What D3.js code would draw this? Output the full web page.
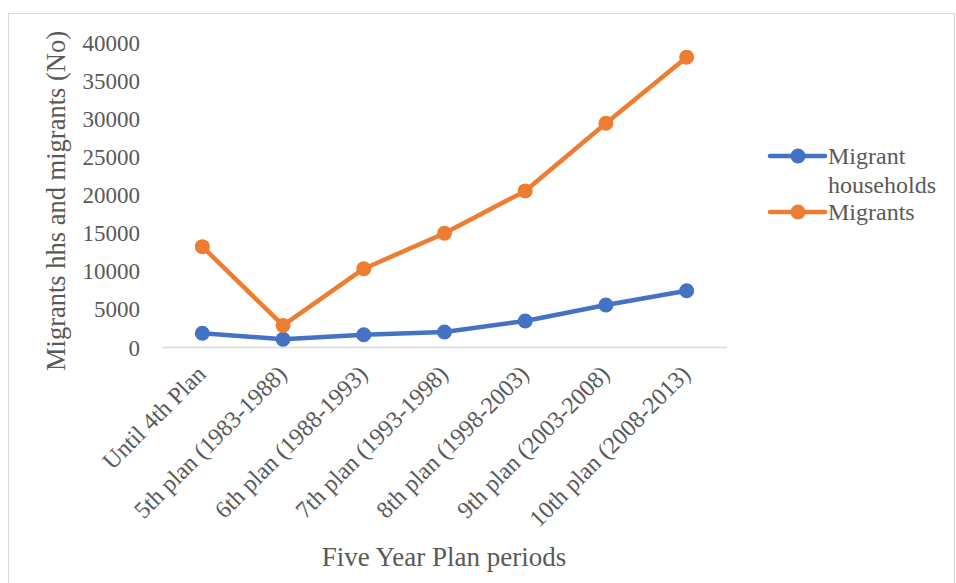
<!DOCTYPE html>
<html lang="en">
<head>
<meta charset="UTF-8">
<title>Migrant households and migrants by Five Year Plan period</title>
<script src="https://d3js.org/d3.v7.min.js"></script>
<style>
    body {
        margin: 0;
        padding: 0;
        background: #fff;
    }
    svg text {
        font-family: "Liberation Serif", "Times New Roman", serif;
        fill: #595959;
    }
</style>
</head>
<body>
<svg id="chart" width="956" height="583"></svg>
<script>
    // data
    const periods = [
        'Until 4th Plan',
        '5th plan (1983-1988)',
        '6th plan (1988-1993)',
        '7th plan (1993-1998)',
        '8th plan (1998-2003)',
        '9th plan (2003-2008)',
        '10th plan (2008-2013)'
    ];
    const households = [1870, 1080, 1680, 2040, 3480, 5590, 7460];
    const migrants = [13250, 2900, 10350, 15000, 20570, 29460, 38140];
    const yTicks = [0, 5000, 10000, 15000, 20000, 25000, 30000, 35000, 40000];

    const series = [
        {name: 'Migrant households', values: households, color: '#4472C4'},
        {name: 'Migrants', values: migrants, color: '#ED7D31'}
    ];

    const svg = d3.select('#chart');

    // chart area border
    svg.append('rect')
        .attr('x', 8.5).attr('y', 13.5)
        .attr('width', 946).attr('height', 600)
        .attr('fill', 'none')
        .attr('stroke', '#d9d9d9');

    const x = d3.scaleBand()
        .domain(periods)
        .range([162, 727]);

    const y = d3.scaleLinear()
        .domain([0, 40000])
        .range([347.5, 43]);

    // y axis labels (no axis line)
    svg.append('g')
        .selectAll('text')
        .data(yTicks)
        .enter()
        .append('text')
        .attr('x', 140)
        .attr('y', d => y(d))
        .attr('dy', '0.35em')
        .attr('text-anchor', 'end')
        .style('font-size', '23px')
        .text(d => d);

    // x axis line
    svg.append('line')
        .attr('x1', 162).attr('x2', 727)
        .attr('y1', y(0)).attr('y2', y(0))
        .attr('stroke', '#d9d9d9')
        .attr('stroke-width', 1.5);

    // x axis labels, rotated
    svg.append('g')
        .selectAll('text')
        .data(periods)
        .enter()
        .append('text')
        .attr('text-anchor', 'end')
        .attr('transform', d => `translate(${x(d) + x.bandwidth() / 2 + 5},${y(0) + 28}) rotate(-45)`)
        .style('font-size', '24px')
        .text(d => d);

    // axis titles
    svg.append('text')
        .attr('transform', `translate(65,201) rotate(-90)`)
        .attr('text-anchor', 'middle')
        .style('font-size', '26.5px')
        .text('Migrants hhs and migrants (No)');

    svg.append('text')
        .attr('x', 444)
        .attr('y', 566)
        .attr('text-anchor', 'middle')
        .style('font-size', '27px')
        .text('Five Year Plan periods');

    // lines and markers
    const line = d3.line()
        .x((d, i) => x(periods[i]) + x.bandwidth() / 2)
        .y(d => y(d));

    series.forEach(s => {
        svg.append('path')
            .attr('d', line(s.values))
            .attr('fill', 'none')
            .attr('stroke', s.color)
            .attr('stroke-width', 4.5)
            .attr('stroke-linejoin', 'round')
            .attr('stroke-linecap', 'round');

        svg.append('g')
            .selectAll('circle')
            .data(s.values)
            .enter()
            .append('circle')
            .attr('cx', (d, i) => x(periods[i]) + x.bandwidth() / 2)
            .attr('cy', d => y(d))
            .attr('r', 7.5)
            .attr('fill', s.color);
    });

    // legend
    const legend = svg.append('g');
    const legendRows = [
        {s: series[0], y: 156, lines: ['Migrant', 'households']},
        {s: series[1], y: 212, lines: ['Migrants']}
    ];
    legendRows.forEach(r => {
        legend.append('line')
            .attr('x1', 770).attr('x2', 825)
            .attr('y1', r.y).attr('y2', r.y)
            .attr('stroke', r.s.color)
            .attr('stroke-width', 4.5)
            .attr('stroke-linecap', 'round');
        legend.append('circle')
            .attr('cx', 798).attr('cy', r.y)
            .attr('r', 7.5)
            .attr('fill', r.s.color);
        r.lines.forEach((t, i) => {
            legend.append('text')
                .attr('x', 828)
                .attr('y', r.y + i * 28.5)
                .attr('dy', '0.35em')
                .style('font-size', '24px')
                .text(t);
        });
    });
</script>
</body>
</html>
